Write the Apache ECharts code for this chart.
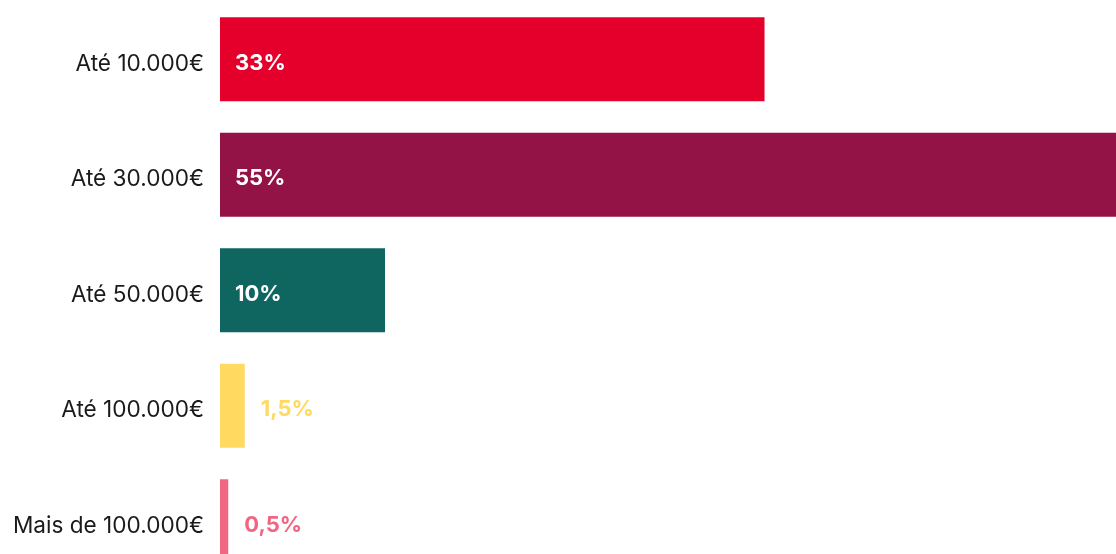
<!DOCTYPE html>
<html>
<head>
<meta charset="utf-8">
<script src="https://cdn.jsdelivr.net/npm/echarts@6/dist/echarts.min.js"></script>
<style>html,body{margin:0;padding:0;background:#fff;overflow:hidden}#c{width:1116px;height:580px}</style>
</head>
<body>
<div id="c"></div>
<script>
const categories = ['Até 10.000€', 'Até 30.000€', 'Até 50.000€', 'Até 100.000€', 'Mais de 100.000€'];
const values = [33, 55, 10, 1.5, 0.5];
const valueLabels = ['33%', '55%', '10%', '1,5%', '0,5%'];
const colors = ['#E4002B', '#931346', '#0F6660', '#FFD960', '#F06683'];

const chart = echarts.init(document.getElementById('c'), null, {renderer: 'canvas'});
const data = values.map((v, i) => {
  const inside = v >= 5;
  return {
    value: v,
    itemStyle: {color: colors[i]},
    label: {
      position: inside ? 'insideLeft' : 'right',
      distance: inside ? 15 : 16,
      color: inside ? '#ffffff' : colors[i],
      formatter: valueLabels[i]
    }
  };
});
chart.setOption({
  animation: false,
  grid: {left: 220, right: 0, top: 1.5, bottom: 1, containLabel: false},
  xAxis: {
    type: 'value', min: 0, max: 54.3,
    show: false
  },
  yAxis: {
    type: 'category', data: categories, inverse: true,
    axisLine: {show: false}, axisTick: {show: false},
    axisLabel: {margin: 16, fontFamily: 'Inter', fontSize: 22.6, color: '#1a1a1a',
      verticalAlign: 'top', lineHeight: 9}
  },
  series: [{
    type: 'bar', data: data, barWidth: 84, clip: true,
    label: {show: true, fontFamily: 'Inter', fontWeight: 'bold', fontSize: 22, offset: [0, 4]}
  }]
});
</script>
</body>
</html>
